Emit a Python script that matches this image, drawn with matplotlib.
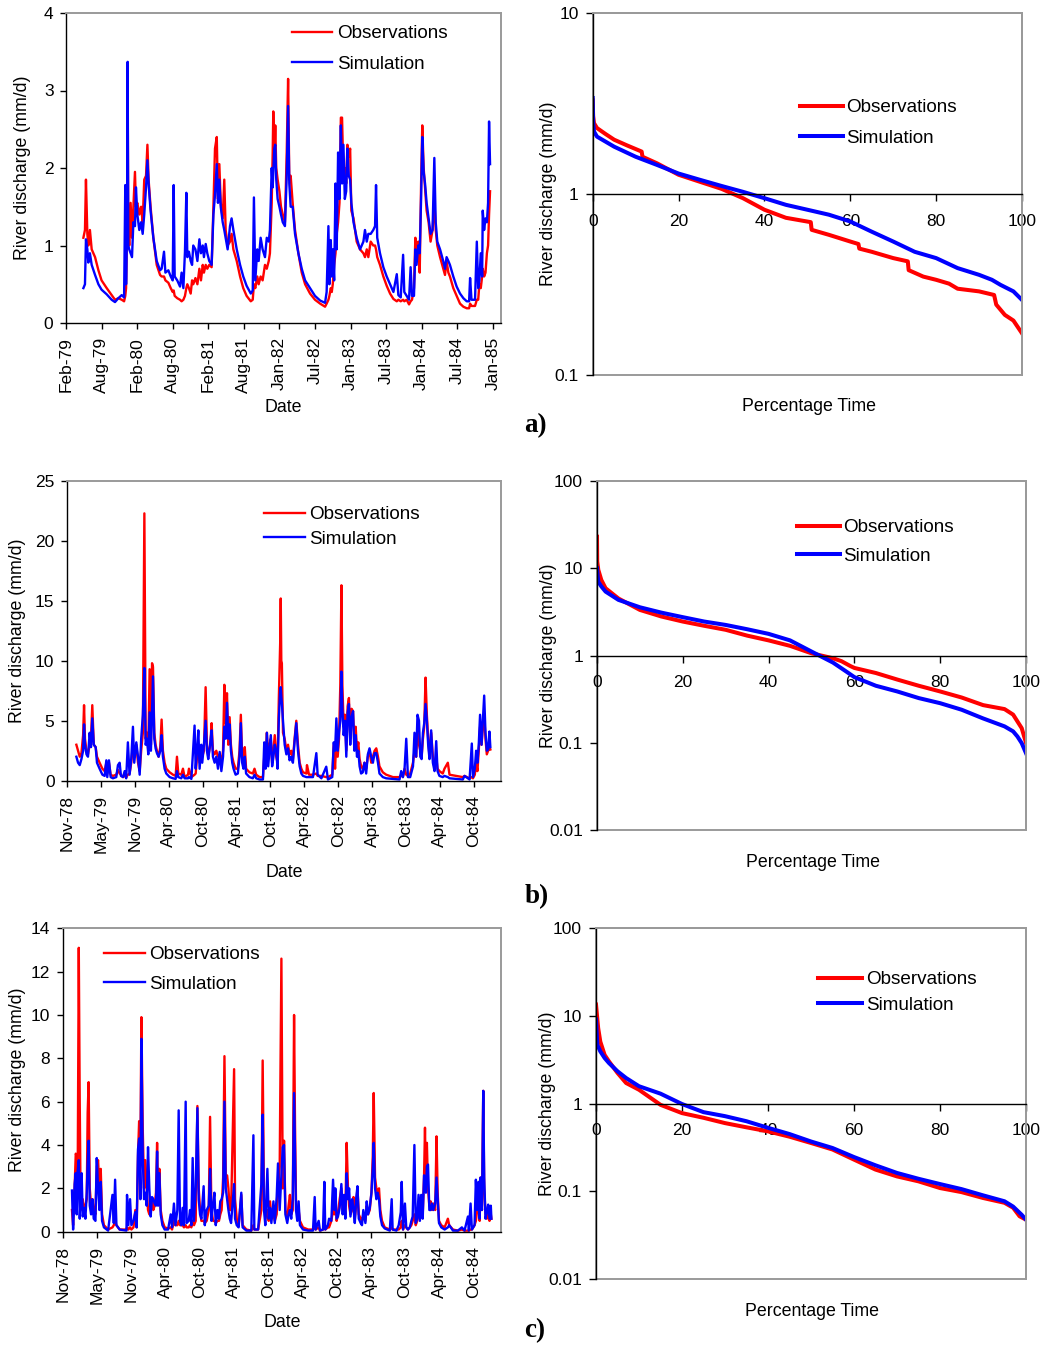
import numpy as np
import matplotlib
matplotlib.use("Agg")
import matplotlib.pyplot as plt
from matplotlib.patches import Rectangle
from matplotlib.lines import Line2D
from matplotlib.ticker import NullLocator

# ---------------- DATA ----------------
# Panel a hydrograph: days since axis origin (~mid Feb-79), observed / simulated (mm/d)
a_day = [88, 96, 101, 108, 113, 121, 130, 147, 164, 180, 206, 231, 248, 265, 282, 294, 300, 304, 309, 312,
         315, 320, 327, 334, 341, 349, 354, 361, 371, 380, 388, 396, 405, 412, 418, 428, 442, 459, 476, 484,
         496, 503, 518, 530, 540, 545, 550, 563, 577, 585, 594, 602, 609, 614, 622, 631, 638, 644, 655, 665,
         675, 683, 692, 698, 707, 715, 725, 737, 746, 754, 763, 769, 776, 783, 793, 801, 808, 818, 830, 838,
         847, 864, 881, 897, 914, 935, 945, 951, 958, 968, 975, 985, 995, 1007, 1016, 1026, 1032, 1041, 1046, 1049,
         1054, 1059, 1064, 1071, 1080, 1088, 1097, 1108, 1117, 1124, 1130, 1137, 1147, 1159, 1176, 1193, 1210, 1235, 1260, 1286,
         1311, 1319, 1328, 1333, 1340, 1345, 1350, 1357, 1364, 1370, 1377, 1384, 1391, 1397, 1404, 1411, 1418, 1424, 1431, 1438,
         1444, 1455, 1471, 1488, 1505, 1513, 1522, 1530, 1542, 1555, 1564, 1569, 1575, 1589, 1606, 1623, 1640, 1657, 1674, 1682,
         1694, 1706, 1712, 1724, 1736, 1744, 1751, 1761, 1768, 1774, 1783, 1790, 1797, 1803, 1810, 1817, 1825, 1835, 1845, 1855,
         1864, 1871, 1879, 1893, 1909, 1918, 1926, 1935, 1943, 1960, 1977, 1994, 2011, 2028, 2040, 2045, 2052, 2070, 2079, 2086,
         2092, 2099, 2106, 2109, 2116, 2123, 2130, 2136, 2141, 2146]
a_obs = [1.1, 1.2, 1.85, 1.15, 1.0, 1.2, 0.95, 0.85, 0.68, 0.55, 0.45, 0.36, 0.3, 0.32, 0.30, 0.28, 0.35, 0.45, 1.2, 3.0,
         1.3, 1.0, 1.55, 1.1, 1.5, 1.95, 1.5, 1.55, 1.4, 1.5, 1.3, 1.85, 1.9, 2.3, 1.85, 1.5, 1.1, 0.75, 0.62, 0.6,
         0.6, 0.55, 0.52, 0.45, 0.4, 0.42, 0.35, 0.32, 0.3, 0.28, 0.3, 0.35, 0.45, 0.5, 0.45, 0.38, 0.55, 0.5, 0.58, 0.5,
         0.7, 0.55, 0.75, 0.65, 0.75, 0.7, 0.75, 0.72, 1.5, 2.25, 2.4, 1.6, 2.05, 1.55, 1.35, 1.85, 1.2, 1.0, 1.05, 1.15,
         0.95, 0.8, 0.6, 0.45, 0.35, 0.28, 0.3, 0.5, 0.45, 0.6, 0.5, 0.6, 0.55, 0.75, 0.7, 0.8, 0.9, 1.55, 2.2, 2.73,
         2.1, 2.55, 2.0, 1.85, 1.7, 1.5, 1.4, 1.3, 2.2, 3.15, 1.85, 1.9, 1.55, 1.2, 0.9, 0.65, 0.5, 0.38, 0.3, 0.25,
         0.21, 0.25, 0.3, 0.35, 0.45, 0.4, 0.5, 0.75, 0.9, 1.15, 1.3, 1.55, 2.65, 2.65, 1.9, 2.0, 1.8, 2.3, 2.15, 2.25,
         1.45, 1.35, 1.05, 0.95, 0.9, 0.85, 0.95, 0.85, 1.05, 1.0, 1.0, 0.95, 0.85, 0.75, 0.6, 0.48, 0.38, 0.31, 0.28, 0.3,
         0.28, 0.3, 0.28, 0.3, 0.24, 0.28, 0.3, 0.45, 1.1, 0.9, 1.05, 0.65, 1.8, 2.55, 2.0, 1.75, 1.45, 1.3, 1.05, 1.2,
         1.6, 1.2, 1.0, 0.85, 0.7, 0.62, 0.8, 0.65, 0.6, 0.45, 0.35, 0.25, 0.21, 0.19, 0.19, 0.25, 0.22, 0.22, 0.3, 0.3,
         0.5, 0.45, 0.6, 0.7, 0.6, 0.65, 0.9, 1.0, 1.4, 1.7]
a_sim = [0.45, 0.5, 1.08, 0.95, 0.78, 0.9, 0.75, 0.62, 0.5, 0.43, 0.37, 0.3, 0.27, 0.32, 0.36, 0.33, 1.78, 0.5, 1.2, 3.37,
         1.0, 0.95, 0.9, 0.85, 1.3, 1.25, 1.75, 1.4, 1.2, 1.3, 1.15, 1.4, 1.75, 2.1, 1.8, 1.45, 1.1, 0.8, 0.68, 0.7,
         0.92, 0.65, 0.68, 0.6, 0.55, 1.78, 0.6, 0.55, 0.47, 0.65, 0.45, 0.92, 1.68, 0.85, 0.92, 0.8, 0.75, 1.0, 0.95, 0.8,
         1.08, 0.9, 1.0, 0.85, 1.02, 0.9, 0.8, 0.75, 1.4, 1.65, 2.05, 1.55, 1.85, 1.5, 1.3, 1.2, 1.1, 0.95, 1.25, 1.35,
         1.2, 0.95, 0.75, 0.6, 0.48, 0.38, 0.42, 1.62, 0.55, 0.95, 0.8, 1.1, 0.95, 0.85, 1.1, 1.05, 1.2, 2.0, 1.75, 1.95,
         2.25, 2.3, 1.85, 1.6, 1.5, 1.4, 1.3, 1.25, 1.9, 2.8, 1.8, 1.5, 1.5, 1.15, 0.9, 0.7, 0.55, 0.45, 0.35, 0.29,
         0.26, 0.4, 1.25, 0.5, 1.07, 0.6, 0.95, 0.55, 1.8, 0.95, 2.2, 1.6, 2.55, 1.8, 2.3, 1.6, 1.7, 2.25, 1.9, 1.85,
         1.55, 1.3, 1.1, 0.95, 1.05, 1.2, 1.05, 1.15, 1.15, 1.2, 1.25, 1.78, 1.1, 0.9, 0.72, 0.6, 0.5, 0.4, 0.63, 0.36,
         0.33, 0.88, 0.4, 0.35, 0.3, 0.72, 0.35, 0.35, 0.95, 0.75, 1.0, 0.9, 1.6, 2.4, 1.95, 1.8, 1.55, 1.35, 1.15, 1.2,
         2.13, 1.3, 1.05, 0.95, 0.8, 0.7, 0.85, 0.8, 0.75, 0.6, 0.47, 0.38, 0.32, 0.28, 0.28, 0.58, 0.3, 0.3, 1.05, 0.45,
         0.55, 0.9, 0.6, 1.45, 1.2, 1.35, 1.3, 1.55, 2.6, 2.05]

# Panel b hydrograph: days since axis origin (Nov-78)
b_day = [50, 59, 68, 77, 86, 91, 96, 104, 112, 121, 128, 135, 143, 153, 160, 174, 189, 201, 210, 215,
         224, 233, 245, 263, 272, 281, 288, 299, 308, 316, 325, 334, 343, 352, 359, 370, 379, 388, 396, 405,
         413, 420, 427, 434, 441, 448, 454, 459, 466, 473, 480, 489, 498, 505, 512, 521, 530, 548, 566, 580,
         587, 594, 610, 619, 628, 646, 651, 664, 681, 687, 694, 701, 708, 717, 722, 731, 740, 747, 754, 765,
         772, 779, 788, 797, 806, 815, 824, 833, 840, 847, 854, 861, 868, 875, 882, 889, 900, 912, 921, 928,
         935, 942, 949, 956, 974, 992, 1001, 1010, 1028, 1046, 1053, 1060, 1067, 1074, 1081, 1088, 1095, 1102, 1109, 1117,
         1124, 1131, 1138, 1141, 1144, 1147, 1153, 1162, 1171, 1180, 1188, 1197, 1206, 1215, 1224, 1233, 1242, 1251, 1260, 1278,
         1281, 1292, 1313, 1331, 1338, 1358, 1384, 1393, 1416, 1424, 1431, 1438, 1445, 1452, 1459, 1465, 1470, 1477, 1484, 1491,
         1498, 1505, 1512, 1519, 1527, 1534, 1541, 1548, 1555, 1562, 1570, 1579, 1588, 1597, 1606, 1615, 1624, 1633, 1642, 1651,
         1660, 1668, 1686, 1704, 1740, 1775, 1784, 1793, 1802, 1811, 1820, 1832, 1847, 1855, 1864, 1871, 1879, 1886, 1893, 1900,
         1907, 1914, 1921, 1928, 1935, 1944, 1953, 1962, 1971, 1978, 1988, 2006, 2015, 2033, 2042, 2077, 2113, 2122, 2149, 2161,
         2167, 2177, 2184, 2191, 2198, 2205, 2213, 2220, 2227, 2234, 2241, 2248, 2255, 2260]
b_obs = [3.0, 2.5, 2.0, 2.3, 3.8, 6.3, 3.5, 2.5, 2.2, 3.0, 3.5, 6.3, 3.0, 2.8, 2.0, 1.5, 1.0, 0.8, 1.5, 0.6,
         1.5, 0.5, 0.4, 0.5, 0.9, 0.6, 0.5, 0.3, 0.4, 0.3, 0.5, 0.6, 1.5, 3.0, 2.0, 3.0, 1.5, 0.8, 2.5, 4.0,
         22.3, 3.5, 4.0, 2.5, 9.3, 3.0, 9.8, 9.5, 4.0, 3.0, 2.5, 2.0, 2.8, 5.1, 2.5, 1.5, 1.0, 0.7, 0.5, 0.4,
         2.0, 0.6, 0.5, 1.0, 0.3, 0.5, 1.0, 0.3, 0.5, 0.6, 2.0, 3.0, 1.5, 2.5, 2.0, 2.5, 7.8, 3.0, 2.0, 3.0,
         4.8, 2.5, 2.2, 2.5, 2.0, 2.2, 1.5, 2.5, 8.0, 4.8, 7.3, 3.0, 5.3, 3.0, 2.0, 1.5, 1.0, 1.0, 2.5, 5.5,
         2.0, 1.5, 2.8, 1.0, 0.7, 0.6, 1.0, 0.5, 0.3, 0.3, 2.0, 1.5, 4.0, 2.0, 3.0, 3.5, 1.5, 2.5, 3.8, 2.0,
         1.5, 7.0, 11.5, 15.2, 10.0, 9.8, 4.0, 3.5, 2.5, 3.0, 2.2, 2.5, 1.8, 3.5, 5.0, 3.0, 1.5, 1.0, 0.7, 0.6,
         1.3, 0.5, 0.5, 0.6, 0.4, 0.4, 0.3, 0.3, 0.5, 3.0, 1.0, 3.5, 2.0, 3.5, 8.0, 16.3, 8.0, 4.5, 5.5, 2.5,
         6.2, 6.9, 3.5, 6.0, 5.8, 3.0, 4.5, 2.5, 3.2, 1.8, 1.2, 1.0, 1.5, 1.0, 2.0, 2.5, 1.5, 2.0, 2.5, 2.7,
         2.0, 1.2, 0.7, 0.5, 0.3, 0.3, 0.5, 0.3, 1.0, 0.5, 0.4, 0.6, 1.5, 2.5, 2.0, 4.5, 3.0, 2.5, 2.0, 3.5,
         4.5, 8.6, 5.5, 3.5, 2.0, 4.0, 2.0, 1.0, 2.0, 1.0, 0.8, 0.6, 1.0, 1.5, 0.5, 0.4, 0.3, 0.4, 0.2, 0.3,
         0.2, 0.5, 1.5, 0.8, 2.5, 4.5, 3.0, 4.5, 5.5, 3.5, 2.2, 2.5, 2.8, 2.6]
b_sim = [2.0, 1.5, 1.3, 1.8, 2.5, 4.7, 3.0, 2.2, 2.0, 4.0, 2.8, 5.2, 3.0, 2.8, 1.5, 1.0, 0.5, 0.4, 1.7, 0.3,
         1.7, 0.3, 0.2, 0.3, 1.3, 1.5, 0.4, 0.3, 0.8, 0.2, 3.2, 0.5, 1.8, 4.5, 1.5, 3.2, 2.0, 0.5, 3.5, 5.5,
         9.4, 3.0, 3.5, 2.2, 5.7, 2.5, 6.0, 8.7, 3.5, 2.7, 2.3, 2.0, 2.5, 3.8, 2.0, 1.0, 0.6, 0.3, 0.2, 0.15,
         0.8, 0.3, 0.2, 0.5, 0.2, 0.2, 0.3, 0.15, 4.6, 1.0, 2.5, 4.2, 1.0, 3.0, 1.5, 3.0, 5.0, 2.5, 1.8, 3.2,
         4.2, 2.0, 1.5, 2.0, 1.0, 2.4, 0.8, 2.0, 4.5, 3.5, 6.5, 3.5, 4.7, 2.5, 1.5, 1.0, 0.5, 0.6, 2.0, 4.8,
         1.5, 1.0, 2.0, 0.6, 0.3, 0.2, 0.5, 0.2, 0.1, 0.1, 3.2, 1.0, 4.0, 1.2, 2.5, 3.8, 1.2, 2.0, 3.0, 2.5,
         1.0, 5.2, 7.5, 7.8, 7.0, 6.5, 5.0, 3.0, 2.2, 2.7, 1.7, 2.0, 1.5, 3.3, 4.8, 2.5, 1.2, 0.6, 0.4, 0.3,
         0.3, 0.3, 0.3, 2.3, 0.5, 0.2, 1.17, 0.1, 0.3, 3.2, 2.5, 5.2, 2.5, 4.0, 5.0, 9.1, 6.0, 3.8, 5.0, 2.0,
         5.7, 6.4, 3.0, 5.3, 5.8, 2.5, 3.8, 2.0, 2.5, 1.2, 0.6, 0.7, 1.5, 0.6, 2.2, 2.7, 2.0, 1.5, 2.3, 2.3,
         1.5, 0.6, 0.3, 0.2, 0.15, 0.1, 0.8, 0.3, 1.0, 3.5, 0.3, 0.3, 1.2, 4.0, 2.0, 5.5, 5.0, 2.0, 1.8, 4.0,
         4.8, 6.4, 5.0, 3.0, 1.8, 4.2, 1.5, 0.8, 3.3, 0.8, 0.4, 0.3, 0.4, 0.3, 0.2, 0.15, 0.1, 0.4, 0.1, 3.1,
         0.3, 1.0, 2.5, 1.5, 3.0, 5.5, 3.0, 5.0, 7.1, 4.0, 2.5, 2.6, 4.1, 2.8]

# Panel c hydrograph: days since axis origin (Nov-78)
c_day = [49, 55, 60, 63, 69, 74, 79, 85, 90, 95, 100, 106, 113, 120, 127, 132, 137, 143, 150, 157,
         164, 173, 180, 187, 194, 201, 208, 218, 240, 263, 270, 277, 284, 301, 337, 340, 347, 356, 363, 374,
         384, 391, 398, 404, 411, 416, 423, 430, 437, 444, 451, 458, 465, 472, 479, 486, 493, 499, 504, 511,
         518, 527, 539, 557, 571, 578, 588, 596, 606, 613, 620, 627, 634, 641, 650, 655, 666, 673, 680, 687,
         694, 703, 712, 719, 726, 733, 745, 751, 761, 772, 779, 786, 795, 802, 809, 818, 826, 833, 840, 848,
         855, 862, 869, 876, 883, 890, 906, 911, 920, 930, 944, 951, 971, 997, 1008, 1013, 1033, 1050, 1057, 1064,
         1071, 1082, 1089, 1096, 1103, 1114, 1121, 1131, 1138, 1147, 1156, 1163, 1170, 1177, 1187, 1194, 1201, 1208, 1216, 1223,
         1228, 1233, 1240, 1247, 1254, 1270, 1297, 1323, 1332, 1337, 1353, 1360, 1376, 1383, 1388, 1402, 1408, 1420, 1429, 1436,
         1441, 1448, 1455, 1464, 1473, 1480, 1487, 1494, 1501, 1508, 1514, 1521, 1530, 1537, 1544, 1551, 1558, 1565, 1575, 1582,
         1589, 1600, 1607, 1614, 1623, 1632, 1639, 1644, 1651, 1658, 1665, 1672, 1679, 1688, 1702, 1729, 1739, 1744, 1764, 1776,
         1787, 1792, 1799, 1809, 1816, 1825, 1835, 1843, 1850, 1859, 1866, 1874, 1881, 1888, 1895, 1903, 1910, 1915, 1920, 1925,
         1931, 1938, 1945, 1952, 1959, 1969, 1976, 1982, 1989, 2001, 2019, 2036, 2043, 2063, 2089, 2110, 2124, 2142, 2147, 2156,
         2163, 2177, 2184, 2191, 2198, 2204, 2209, 2216, 2223, 2228, 2235, 2242, 2249, 2256, 2263, 2266]
c_obs = [1.0, 0.3, 1.5, 2.0, 3.6, 3.5, 2.0, 13.1, 6.0, 1.0, 1.5, 1.5, 1.0, 1.2, 1.5, 5.5, 6.9, 2.0, 1.2, 1.5,
         1.0, 0.8, 3.0, 3.3, 2.0, 2.9, 0.8, 0.3, 0.1, 0.2, 0.3, 0.5, 0.3, 0.1, 0.1, 0.2, 0.1, 0.2, 0.1, 0.2,
         1.0, 0.2, 3.5, 5.1, 4.0, 9.9, 4.8, 2.0, 3.3, 2.0, 1.0, 0.8, 1.0, 1.5, 1.0, 1.2, 1.8, 4.1, 1.5, 2.9,
         1.0, 0.5, 0.2, 0.15, 0.2, 0.1, 0.5, 0.3, 0.3, 0.5, 0.3, 0.3, 0.3, 0.2, 0.3, 0.2, 0.2, 0.3, 0.2, 0.5,
         0.3, 0.5, 5.8, 2.0, 1.0, 0.5, 0.5, 0.4, 0.5, 1.0, 5.3, 1.0, 0.5, 0.5, 0.4, 0.5, 0.5, 0.8, 1.0, 2.5,
         8.1, 2.5, 2.6, 2.0, 1.0, 1.0, 7.5, 1.5, 0.6, 0.3, 1.7, 0.3, 0.1, 0.05, 0.3, 0.1, 0.1, 1.0, 7.9, 1.5,
         0.6, 1.0, 0.5, 1.4, 0.6, 0.8, 0.5, 0.8, 2.0, 3.0, 12.6, 2.0, 4.2, 1.0, 0.6, 1.2, 1.7, 0.8, 1.0, 10.0,
         4.9, 1.5, 0.8, 1.0, 0.5, 0.2, 0.1, 0.1, 0.2, 0.1, 0.2, 0.05, 0.1, 0.3, 0.1, 0.2, 0.2, 0.5, 1.0, 0.8,
         1.6, 0.5, 0.8, 1.5, 2.0, 1.0, 1.2, 0.8, 4.1, 2.0, 1.2, 0.8, 1.0, 1.6, 0.6, 1.2, 2.0, 0.8, 0.6, 0.5,
         0.8, 0.5, 1.2, 0.8, 1.0, 1.8, 3.5, 6.4, 2.5, 2.0, 1.8, 2.0, 1.0, 0.5, 0.2, 0.1, 0.2, 0.1, 0.1, 0.1,
         0.2, 0.5, 0.1, 0.3, 0.2, 0.1, 0.2, 0.3, 0.5, 0.8, 0.3, 0.5, 1.0, 0.8, 1.3, 0.8, 2.5, 4.8, 2.0, 4.1,
         2.0, 1.2, 1.4, 1.0, 1.3, 1.0, 4.4, 1.8, 0.5, 0.3, 0.2, 0.6, 0.3, 0.1, 0.05, 0.1, 0.05, 0.05, 0.05, 0.1,
         0.1, 0.3, 0.5, 1.0, 1.5, 0.5, 2.5, 1.0, 6.5, 2.0, 0.8, 0.6, 1.2, 0.5, 0.8, 0.6]
c_sim = [1.9, 0.1, 1.2, 2.2, 2.7, 0.8, 2.8, 3.3, 0.6, 1.5, 2.7, 0.7, 1.1, 0.6, 1.8, 3.2, 4.2, 1.2, 0.8, 1.5,
         0.6, 0.5, 3.4, 2.0, 1.0, 2.3, 0.5, 0.2, 0.05, 1.7, 0.4, 2.4, 0.3, 0.1, 0.05, 1.7, 0.3, 1.5, 0.3, 0.5,
         0.9, 0.2, 3.8, 4.3, 1.5, 8.9, 3.5, 1.5, 1.8, 1.2, 3.9, 2.0, 0.7, 1.6, 1.5, 1.3, 1.2, 3.7, 1.2, 2.7,
         0.8, 0.3, 0.1, 0.1, 0.8, 0.2, 1.3, 0.3, 1.0, 5.6, 0.5, 0.3, 1.1, 0.3, 6.0, 0.4, 0.5, 1.0, 0.3, 3.4,
         0.5, 2.0, 5.7, 1.5, 0.8, 0.6, 2.1, 0.3, 1.0, 1.2, 2.9, 0.5, 1.3, 1.8, 0.3, 1.0, 0.6, 1.4, 1.5, 1.8,
         6.0, 2.0, 1.5, 1.0, 0.6, 0.4, 2.2, 0.6, 0.3, 0.2, 1.8, 0.2, 0.05, 0.05, 4.45, 0.1, 0.1, 2.2, 5.4, 1.0,
         0.3, 2.9, 0.6, 1.1, 0.4, 1.4, 0.4, 1.6, 3.15, 1.0, 2.6, 3.9, 4.0, 0.8, 0.4, 0.8, 1.0, 0.6, 1.5, 6.4,
         3.8, 1.0, 0.5, 1.4, 0.3, 0.1, 0.05, 0.05, 1.6, 0.1, 0.5, 0.05, 0.1, 2.3, 0.1, 0.3, 0.6, 0.5, 2.4, 1.0,
         2.0, 0.6, 0.7, 1.1, 2.2, 0.8, 1.7, 0.6, 2.7, 1.5, 2.0, 0.7, 1.5, 1.1, 0.4, 1.5, 2.1, 0.6, 0.4, 0.3,
         1.0, 0.4, 1.4, 0.8, 1.1, 1.8, 2.9, 4.1, 2.0, 1.5, 1.8, 1.5, 0.7, 0.3, 0.15, 0.05, 1.5, 0.1, 0.05, 0.3,
         0.9, 2.3, 0.1, 1.3, 0.2, 0.1, 0.2, 0.5, 0.7, 4.0, 0.4, 0.6, 1.7, 0.5, 1.7, 0.6, 2.6, 2.5, 1.8, 3.0,
         3.1, 1.0, 1.0, 1.3, 1.0, 1.3, 2.5, 1.5, 0.4, 0.2, 0.1, 0.2, 0.3, 0.05, 0.05, 0.2, 0.05, 0.7, 0.05, 1.3,
         0.1, 0.3, 2.4, 1.0, 2.3, 0.6, 2.5, 1.0, 6.5, 2.5, 0.6, 0.9, 1.25, 0.6, 1.2, 0.6]

# Flow duration curves: percentage of time exceeded, discharge (mm/d)
a_fdc_obs_pct = [0, 0.1, 0.3, 1, 3, 5, 8, 11.4, 11.6, 15, 20, 25, 30, 35, 40, 45, 50.8, 51.0, 55, 60,
                 61.9, 62.1, 65, 70, 73.4, 73.6, 77, 80, 83, 85, 90, 93.5, 94.0, 96, 98, 100]
a_fdc_obs_q = [3.3, 2.7, 2.47, 2.32, 2.15, 2.0, 1.86, 1.72, 1.61, 1.48, 1.28, 1.17, 1.07, 0.95, 0.82, 0.74, 0.70, 0.635, 0.596, 0.547,
               0.53, 0.50, 0.48, 0.443, 0.425, 0.38, 0.35, 0.336, 0.32, 0.30, 0.29, 0.277, 0.245, 0.215, 0.20, 0.17]
a_fdc_sim_pct = [0, 0.1, 0.3, 1, 5, 10, 15, 20, 25, 30, 35, 40, 45, 50, 55, 60, 65, 70, 75, 80,
                 85, 90, 93, 95, 98, 100]
a_fdc_sim_q = [3.4, 2.5, 2.22, 2.08, 1.83, 1.61, 1.45, 1.30, 1.20, 1.11, 1.03, 0.95, 0.873, 0.82, 0.77, 0.706, 0.62, 0.547, 0.48, 0.443,
               0.39, 0.358, 0.336, 0.315, 0.29, 0.26]

b_fdc_obs_pct = [0, 0.05, 0.3, 1, 2, 5, 10, 15, 20, 25, 30, 35, 40, 45, 50, 55, 57, 59, 60, 65,
                 70, 75, 80, 85, 90, 95, 97, 99, 100]
b_fdc_obs_q = [23, 12, 9.6, 7.35, 5.9, 4.5, 3.33, 2.8, 2.45, 2.19, 1.97, 1.69, 1.49, 1.29, 1.06, 0.93, 0.86, 0.76, 0.72, 0.63,
               0.53, 0.45, 0.387, 0.33, 0.27, 0.243, 0.21, 0.147, 0.10]
b_fdc_sim_pct = [0, 0.3, 1, 2, 5, 10, 15, 20, 25, 30, 35, 40, 45, 50, 55, 58, 60, 65, 70, 75,
                 80, 85, 90, 95, 97, 98, 99, 100]
b_fdc_sim_q = [10, 7.0, 6.2, 5.4, 4.34, 3.57, 3.1, 2.75, 2.45, 2.24, 2.0, 1.77, 1.49, 1.11, 0.83, 0.66, 0.565, 0.45, 0.387, 0.325,
               0.284, 0.239, 0.19, 0.154, 0.135, 0.118, 0.099, 0.076]

c_fdc_obs_pct = [0, 0.5, 1, 2, 3, 5, 7, 10, 15, 20, 25, 30, 35, 40, 45, 50, 55, 60, 65, 70,
                 75, 80, 85, 90, 95, 97, 98.5, 100]
c_fdc_obs_q = [13.5, 7.3, 5.1, 3.6, 3.04, 2.24, 1.72, 1.44, 0.97, 0.78, 0.69, 0.60, 0.537, 0.483, 0.42, 0.356, 0.30, 0.23, 0.177, 0.148,
               0.13, 0.109, 0.098, 0.084, 0.074, 0.065, 0.052, 0.0475]
c_fdc_sim_pct = [0, 0.3, 1, 2, 3, 5, 7, 10, 15, 20, 25, 30, 35, 40, 45, 50, 55, 60, 65, 70,
                 75, 80, 85, 90, 95, 97, 99, 100]
c_fdc_sim_q = [9.1, 4.7, 3.95, 3.32, 2.91, 2.34, 1.96, 1.58, 1.30, 0.99, 0.80, 0.72, 0.63, 0.53, 0.45, 0.37, 0.312, 0.246, 0.198, 0.162,
               0.139, 0.121, 0.106, 0.09, 0.077, 0.067, 0.054, 0.0475]

a_date_labels = ['Feb-79', 'Aug-79', 'Feb-80', 'Aug-80', 'Feb-81', 'Aug-81', 'Jan-82', 'Jul-82',
                 'Jan-83', 'Jul-83', 'Jan-84', 'Jul-84', 'Jan-85']
bc_date_labels = ['Nov-78', 'May-79', 'Nov-79', 'Apr-80', 'Oct-80', 'Apr-81', 'Oct-81', 'Apr-82',
                  'Oct-82', 'Apr-83', 'Oct-83', 'Apr-84', 'Oct-84']
series_names = ['Observations', 'Simulation']

# ---------------- STYLE ----------------
W, H = 1046, 1347
plt.rcParams['font.family'] = ['Liberation Sans', 'DejaVu Sans']
RED, BLUE, GRAY = '#FF0000', '#0000FF', '#9A9A9A'
TICK_FS, LAB_FS, LEG_FS = 12.5, 12.8, 13.6
TS_LW, FDC_LW = 1.7, 2.9

fig = plt.figure(figsize=(W / 100, H / 100), dpi=100)


def ax_px(x0, y0, x1, y1):
    return fig.add_axes([x0 / W, 1 - y1 / H, (x1 - x0) / W, (y1 - y0) / H])


def add_legend(ax, lw, hx, hy, hlen, pitch, gap):
    handles = [Line2D([], [], color=RED, lw=lw), Line2D([], [], color=BLUE, lw=lw)]
    fs_px = LEG_FS / 72 * 100
    row_h = 17.9
    ax.legend(handles, series_names, loc='upper left',
              bbox_to_anchor=(hx / W, 1 - (hy - 6) / H), bbox_transform=fig.transFigure,
              frameon=False, fontsize=LEG_FS, handlelength=hlen / fs_px,
              handletextpad=gap / fs_px, labelspacing=(pitch - row_h) / fs_px,
              borderpad=0, borderaxespad=0)


def ts_panel(box, day, obs, sim, ymax, ystep, step_days, labels, nsteps, ylab_x, xlab_y, leg):
    ax = ax_px(*box)
    ax.plot(day, obs, color=RED, lw=TS_LW, solid_joinstyle='round')
    ax.plot(day, sim, color=BLUE, lw=TS_LW, solid_joinstyle='round')
    ax.set_xlim(0, nsteps * step_days)
    ax.set_ylim(0, ymax)
    yt = np.arange(0, ymax + 0.01, ystep)
    ax.set_yticks(yt)
    ax.set_yticklabels([f'{v:g}' for v in yt])
    ax.set_xticks(np.arange(len(labels)) * step_days)
    ax.set_xticklabels(labels, rotation=90)
    for s in ['top', 'right']:
        ax.spines[s].set_color(GRAY)
        ax.spines[s].set_linewidth(1.4)
    for s in ['left', 'bottom']:
        ax.spines[s].set_color('black')
        ax.spines[s].set_linewidth(1.0)
    ax.tick_params(direction='out', length=4, width=1.0, labelsize=TICK_FS, colors='black')
    ax.tick_params(axis='x', pad=6)
    ax.tick_params(axis='y', pad=5)
    ax.set_ylabel('River discharge (mm/d)', fontsize=LAB_FS, va='center')
    ax.yaxis.set_label_coords(ylab_x, 0.5)
    ax.set_xlabel('Date', fontsize=LAB_FS, va='center')
    ax.xaxis.set_label_coords(0.5, xlab_y)
    add_legend(ax, TS_LW, *leg)
    return ax


def fdc_panel(box, op, oq, sp, sq, ylo, yhi, ylab_x, xlab_y, leg, letter, letter_xy):
    ax = ax_px(*box)
    ax.set_yscale('log')
    ax.plot(op, oq, color=RED, lw=FDC_LW, solid_joinstyle='round')
    ax.plot(sp, sq, color=BLUE, lw=FDC_LW, solid_joinstyle='round')
    ax.set_xlim(0, 100)
    ax.set_ylim(ylo, yhi)
    yt = [v for v in [0.01, 0.1, 1, 10, 100] if ylo <= v <= yhi]
    ax.set_yticks(yt)
    ax.set_yticklabels([f'{v:g}' for v in yt])
    ax.yaxis.set_minor_locator(NullLocator())
    ax.set_xticks(np.arange(0, 101, 20))
    ax.spines['bottom'].set_position(('data', 1.0))
    for s in ['top', 'right']:
        ax.spines[s].set_color(GRAY)
        ax.spines[s].set_linewidth(1.4)
    ax.spines['left'].set_linewidth(1.0)
    ax.spines['bottom'].set_linewidth(1.0)
    ax.add_patch(Rectangle((0, 0), 1, 1, transform=ax.transAxes, fill=False,
                           ec=GRAY, lw=1.4, zorder=0.5, clip_on=False))
    ax.tick_params(direction='out', length=5, width=1.0, labelsize=TICK_FS, colors='black')
    ax.tick_params(axis='x', pad=9)
    ax.tick_params(axis='y', pad=5)
    ax.set_ylabel('River discharge (mm/d)', fontsize=LAB_FS, va='center')
    ax.yaxis.set_label_coords(ylab_x, 0.5)
    ax.set_xlabel('Percentage Time', fontsize=LAB_FS, va='center')
    ax.xaxis.set_label_coords(0.503, xlab_y)
    add_legend(ax, FDC_LW, *leg)
    fig.text(letter_xy[0] / W, 1 - letter_xy[1] / H, letter, family=['Liberation Serif', 'DejaVu Serif'],
             fontweight='bold', fontsize=19.5, ha='center', va='center')
    return ax


# ---------------- PANELS ----------------
ts_panel((66, 13, 501, 323), a_day, a_obs, a_sim, 4, 1, 180, a_date_labels, 12.23,
         -0.101, -0.274, (292, 31, 40, 31, 5))
fdc_panel((592.7, 13.3, 1022, 375), a_fdc_obs_pct, a_fdc_obs_q, a_fdc_sim_pct, a_fdc_sim_q,
          0.1, 10, -0.104, -0.086, (800, 105, 43, 31, 3), 'a)', (535, 426))

ts_panel((67, 481, 501, 780.7), b_day, b_obs, b_sim, 25, 5, 181, bc_date_labels, 12.8,
         -0.113, -0.305, (264, 512, 41, 25, 4))
fdc_panel((597, 481, 1026, 830), b_fdc_obs_pct, b_fdc_obs_q, b_fdc_sim_pct, b_fdc_sim_q,
          0.01, 100, -0.114, -0.092, (797, 525, 43, 29, 3), 'b)', (537, 897))

ts_panel((62.7, 928.3, 501, 1231.7), c_day, c_obs, c_sim, 14, 2, 181, bc_date_labels, 12.8,
         -0.102, -0.298, (104, 952, 41, 30, 4))
fdc_panel((596, 928.3, 1026, 1279), c_fdc_obs_pct, c_fdc_obs_q, c_fdc_sim_pct, c_fdc_sim_q,
          0.01, 100, -0.112, -0.094, (818, 977, 44, 26, 4), 'c)', (535, 1331))

fig.savefig('out.png', dpi=100)
